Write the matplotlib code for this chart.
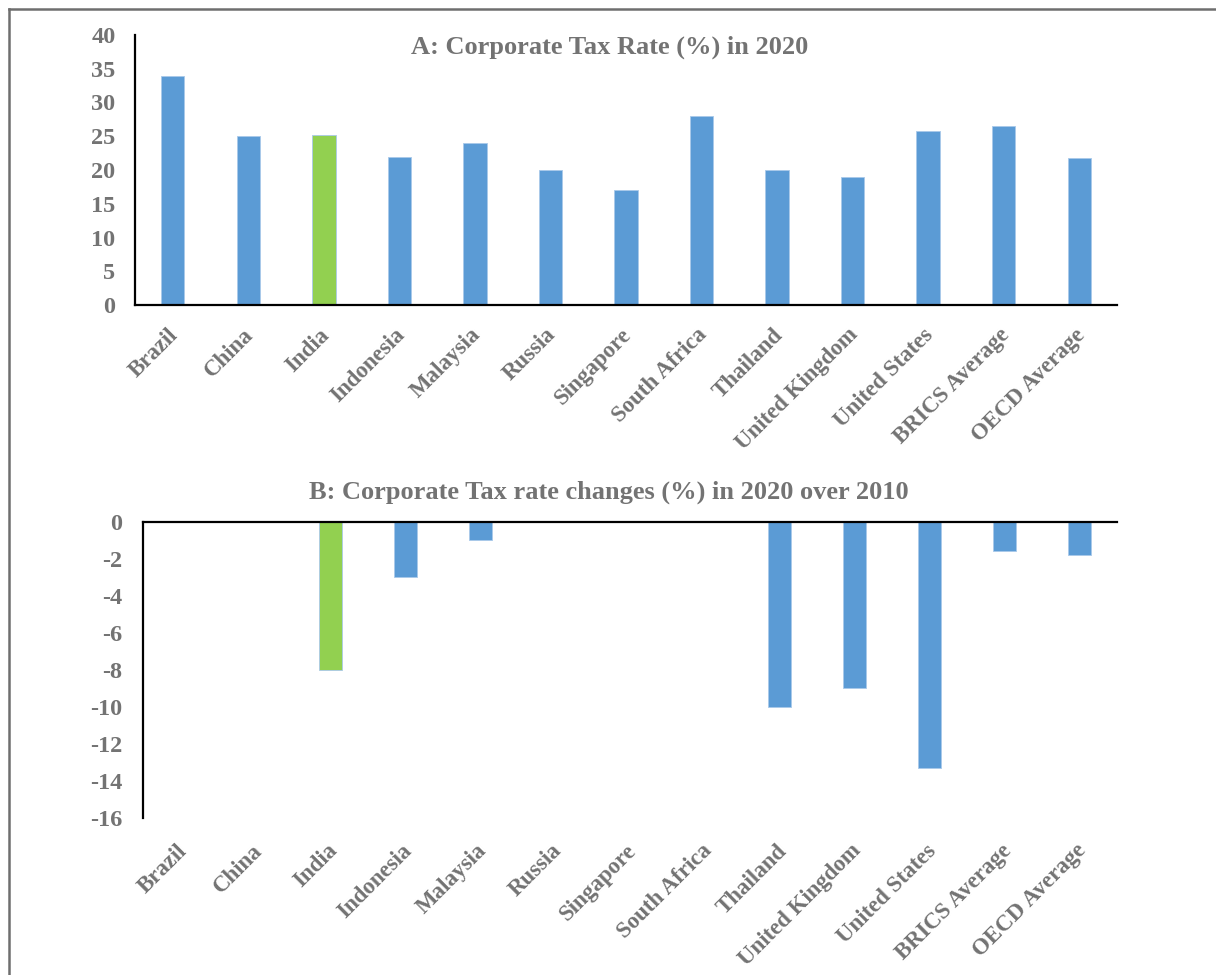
import matplotlib
matplotlib.use("Agg")
import matplotlib.pyplot as plt
from matplotlib.lines import Line2D
import matplotlib.transforms as mtransforms

categories = ["Brazil", "China", "India", "Indonesia", "Malaysia", "Russia",
              "Singapore", "South Africa", "Thailand", "United Kingdom",
              "United States", "BRICS Average", "OECD Average"]
rate_2020 = [34, 25, 25.2, 22, 24, 20, 17, 28, 20, 19, 25.8, 26.5, 21.8]
change_2020_vs_2010 = [0, 0, -8, -3, -1, 0, 0, 0, -10, -9, -13.3, -1.6, -1.8]
highlight = "India"

title_a = "A: Corporate Tax Rate (%) in 2020"
title_b = "B: Corporate Tax rate changes (%) in 2020 over 2010"
yticks_a = [0, 5, 10, 15, 20, 25, 30, 35, 40]
yticks_b = [0, -2, -4, -6, -8, -10, -12, -14, -16]

BLUE = "#5B9BD5"
GREEN = "#92D050"
TXT = "#737373"

plt.rcParams['font.family'] = ['Liberation Serif', 'DejaVu Serif']
plt.rcParams['font.weight'] = 'bold'
plt.rcParams['axes.unicode_minus'] = False

W, H = 1216, 975
fig = plt.figure(figsize=(W / 100, H / 100), dpi=100)

def fx(px):
    return px / W

def fy(py):
    return 1 - py / H

colors = [GREEN if c == highlight else BLUE for c in categories]
x = list(range(len(categories)))

def shift_labels(ax, dx_px):
    off = mtransforms.ScaledTranslation(dx_px / 100, 0, fig.dpi_scale_trans)
    for lab in ax.get_xticklabels():
        lab.set_transform(lab.get_transform() + off)

# Panel A
axA = fig.add_axes([fx(135), fy(305), fx(1117) - fx(135), fy(35) - fy(305)])
axA.bar(x, rate_2020, width=0.31, color=colors, edgecolor="#A9C9EA", linewidth=0.6)
axA.set_xlim(-0.5, len(categories) - 0.5)
axA.set_ylim(0, 40)
axA.set_yticks(yticks_a)
axA.set_xticks(x)
axA.set_xticklabels(categories, rotation=45, ha='right', rotation_mode='anchor')
for s in ['top', 'right']:
    axA.spines[s].set_visible(False)
for s in ['left', 'bottom']:
    axA.spines[s].set_linewidth(1.6)
    axA.spines[s].set_color('black')
axA.tick_params(axis='y', length=0, pad=14, labelsize=17.5, labelcolor=TXT)
axA.tick_params(axis='x', length=0, pad=14, labelsize=16.5, labelcolor=TXT)
for lab in axA.get_xticklabels() + axA.get_yticklabels():
    lab.set_fontweight('bold')
shift_labels(axA, -5)

# Panel B
axB = fig.add_axes([fx(143), fy(818), fx(1117) - fx(143), fy(521.5) - fy(818)])
axB.bar(x, change_2020_vs_2010, width=0.31, color=colors, edgecolor="#A9C9EA", linewidth=0.6)
axB.set_xlim(-0.5, len(categories) - 0.5)
axB.set_ylim(-16, 0)
axB.set_yticks(yticks_b)
axB.set_xticks(x)
axB.set_xticklabels(categories, rotation=45, ha='right', rotation_mode='anchor')
for s in ['right', 'bottom']:
    axB.spines[s].set_visible(False)
for s in ['left', 'top']:
    axB.spines[s].set_linewidth(1.6)
    axB.spines[s].set_color('black')
axB.tick_params(axis='y', length=0, pad=15, labelsize=17.5, labelcolor=TXT)
axB.tick_params(axis='x', length=0, pad=16, labelsize=16.5, labelcolor=TXT)
for lab in axB.get_xticklabels() + axB.get_yticklabels():
    lab.set_fontweight('bold')
shift_labels(axB, -4)

# Titles
fig.text(fx(610), fy(47), title_a, ha='center', va='center', fontsize=19,
         fontweight='bold', color=TXT)
fig.text(fx(609), fy(492), title_b, ha='center', va='center', fontsize=19,
         fontweight='bold', color=TXT)

# Frame lines (top and left)
fig.add_artist(Line2D([fx(9), 1.0], [fy(9), fy(9)], transform=fig.transFigure,
                      color='#6e6e6e', linewidth=1.8))
fig.add_artist(Line2D([fx(9), fx(9)], [fy(9), 0.0], transform=fig.transFigure,
                      color='#6e6e6e', linewidth=1.8))

fig.savefig("out.png", dpi=100)
